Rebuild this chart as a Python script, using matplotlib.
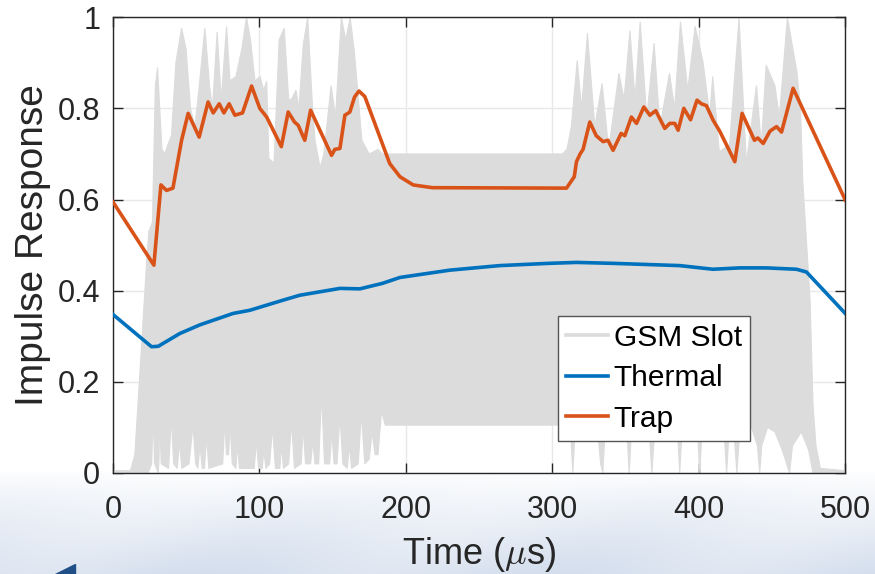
import numpy as np
import matplotlib
matplotlib.use("Agg")
import matplotlib.pyplot as plt
from matplotlib.lines import Line2D

plt.rcParams['font.family'] = ['Liberation Sans', 'DejaVu Sans']
plt.rcParams['mathtext.fontset'] = 'cm'

# GSM slot envelope (upper / lower edge of the fast oscillation)
gsm_t_hi = [0, 12, 15, 19, 23, 24.5, 27, 29, 30.5, 32, 33.5, 35.5, 37.5, 40, 43, 46.9, 50, 53, 56,
            59, 62.8, 66, 68, 71.2, 74, 77.6, 80, 84, 88, 91.2, 94, 97, 100.5, 103, 105, 106.5,
            110, 113.5, 117, 120, 122, 125, 127, 130, 133, 136, 138, 141.5, 144, 149, 152, 156,
            159, 162, 165, 170, 175, 181, 184, 307, 310, 313, 317, 320, 324, 329, 334, 338.5,
            345.5, 349, 353, 356.5, 360, 364.5, 369.5, 373.5, 380, 383.5, 387.5, 392.5, 397.5,
            403, 407.5, 409.5, 414, 421, 427.5, 432.5, 439.4, 442.7, 446, 452, 455, 460.5, 467,
            469.5, 471, 476, 478, 480, 483, 500]
gsm_hi = [0.005, 0.005, 0.04, 0.25, 0.46, 0.53, 0.55, 0.85, 0.89, 0.80, 0.71, 0.70, 0.72, 0.74,
          0.90, 0.976, 0.93, 0.80, 0.76, 0.85, 0.976, 0.85, 0.80, 0.968, 0.82, 0.98, 0.86, 0.87,
          0.93, 1.0, 0.95, 0.86, 0.87, 0.84, 0.86, 0.69, 0.68, 0.95, 0.976, 0.82, 0.82, 0.84,
          0.80, 0.94, 1.0, 0.82, 0.73, 0.67, 0.70, 0.85, 0.78, 1.0, 0.95, 1.0, 0.92, 0.73, 0.70,
          0.71, 0.70, 0.70, 0.71, 0.76, 0.905, 0.80, 0.965, 0.76, 0.855, 0.71, 0.877, 0.82,
          0.971, 0.82, 0.99, 0.78, 0.943, 0.76, 0.877, 0.80, 0.99, 0.84, 0.98, 0.90, 0.785, 0.87,
          0.705, 0.72, 0.998, 0.68, 0.85, 0.72, 0.895, 0.85, 0.78, 1.0, 0.88, 0.80, 0.64, 0.38,
          0.15, 0.06, 0.01, 0.005]

gsm_t_lo = [0, 24, 26.5, 27.5, 28.5, 31, 31.5, 32, 33, 38, 40, 41.5, 44, 45.5, 47, 52, 54.7,
            56.5, 58, 59.5, 61, 62.5, 64, 65.5, 75, 76.5, 77.5, 79, 80, 81.5, 84, 85, 86.5,
            96.5, 98, 99.5, 102, 103, 104.5, 107, 109, 111, 114, 115, 116.5, 120, 122, 124,
            128.5, 130, 131.5, 135, 136.5, 138, 140.5, 142.5, 144.5, 148, 149.5, 151, 153, 155,
            157, 160, 161.5, 163, 167.5, 169.7, 172, 175, 177, 179, 181, 183.4, 186,
            304, 309, 312.5, 314, 315.5, 320, 326, 331, 333, 334.5, 336, 345, 351, 352.5, 354,
            360, 366, 368, 370, 378, 385.5, 387, 388.5, 396, 399.3, 400.7, 402, 410, 417.5, 419,
            420.5, 424.5, 426, 427.5, 436, 440, 441.6, 443, 447, 452, 457, 460, 462, 464, 470,
            475, 478, 500]
gsm_lo = [0, 0, 0.02, 0.13, 0.02, 0.0, 0.03, 0.13, 0.02, 0.01, 0.12, 0.02, 0.01, 0.07, 0.01,
          0.02, 0.105, 0.02, 0.01, 0.06, 0.01, 0.01, 0.08, 0.01, 0.02, 0.12, 0.04, 0.04, 0.11,
          0.02, 0.01, 0.06, 0.01, 0.01, 0.07, 0.01, 0.01, 0.05, 0.01, 0.02, 0.10, 0.01, 0.01,
          0.06, 0.01, 0.02, 0.11, 0.01, 0.02, 0.10, 0.02, 0.02, 0.07, 0.02, 0.02, 0.175, 0.02,
          0.02, 0.09, 0.02, 0.02, 0.125, 0.02, 0.01, 0.06, 0.01, 0.02, 0.13, 0.02, 0.03, 0.09,
          0.04, 0.04, 0.135, 0.105,
          0.105, 0.10, 0.09, 0.0, 0.09, 0.11, 0.10, 0.09, 0.02, 0.0, 0.09, 0.10, 0.09, 0.0, 0.09,
          0.11, 0.10, 0.0, 0.10, 0.11, 0.09, 0.0, 0.09, 0.10, 0.08, 0.0, 0.08, 0.10, 0.08, 0.0,
          0.08, 0.07, 0.0, 0.07, 0.10, 0.06, 0.0, 0.06, 0.10, 0.09, 0.05, 0.02, 0.0, 0.06, 0.09,
          0.05, 0.0, 0.0]

# thermal model response
thermal_t = [0, 26.4, 31, 45.7, 59.4, 82, 93.5, 116, 127.6, 155, 168.6, 184, 196, 230, 264, 298,
             316.5, 341, 387, 409.6, 428, 446, 466.7, 473.5, 491.6, 500]
thermal = [0.348, 0.277, 0.278, 0.306, 0.325, 0.35, 0.357, 0.379, 0.39, 0.405, 0.404, 0.416,
           0.429, 0.445, 0.455, 0.46, 0.462, 0.46, 0.455, 0.447, 0.45, 0.45, 0.447, 0.441,
           0.379, 0.35]

# trap model response
trap_t = [0, 28, 32.8, 36.6, 41, 46.9, 51.4, 58.9, 65, 68.5, 72.6, 75.8, 79.4, 83.3, 88.5, 94.7,
          100.3, 105, 115, 119.7, 124, 126.5, 131, 135, 149.3, 151.5, 155, 158.4, 161.8, 165,
          168, 172, 189, 196, 205, 218, 309.7, 315, 316.5, 319, 321, 325.6, 330, 334.7, 338,
          341.5, 347, 349.5, 354, 357.5, 362.5, 366.6, 370.6, 376.8, 380.2, 383.6, 385.9, 389.8,
          394.4, 398.8, 401.8, 405.2, 409.8, 414.3, 424.6, 429.6, 438, 440.3, 444, 448.6, 453.1,
          456.5, 464.4, 500]
trap = [0.595, 0.456, 0.632, 0.62, 0.625, 0.73, 0.789, 0.737, 0.814, 0.79, 0.81, 0.79, 0.81,
        0.785, 0.79, 0.849, 0.80, 0.781, 0.716, 0.792, 0.77, 0.763, 0.73, 0.796, 0.697, 0.71,
        0.712, 0.785, 0.792, 0.825, 0.838, 0.826, 0.679, 0.65, 0.632, 0.626, 0.625, 0.65, 0.683,
        0.70, 0.71, 0.77, 0.74, 0.727, 0.73, 0.708, 0.745, 0.74, 0.781, 0.767, 0.803, 0.785,
        0.795, 0.756, 0.767, 0.767, 0.752, 0.80, 0.775, 0.818, 0.81, 0.806, 0.774, 0.75, 0.683,
        0.789, 0.73, 0.735, 0.723, 0.75, 0.76, 0.748, 0.844, 0.599]

fig = plt.figure(figsize=(8.75, 5.74), dpi=100)

# soft slide backdrop fading in under the plot
bg = fig.add_axes([0, 0, 1, 1], zorder=-10)
rows = np.arange(574)[:, None]
cols = np.arange(875)[None, :]
fade = np.clip((rows - 470) / 104.0, 0, 1) ** 0.8
streak = 0.5 + 0.5 * np.sin((cols + rows * 1.6) / 55.0)
amount = fade * (0.75 + 0.25 * streak)
tint = np.array([0.83, 0.87, 0.93])
grad = 1 - amount[..., None] * (1 - tint)
bg.imshow(grad, aspect='auto', extent=[0, 1, 0, 1], interpolation='bilinear')
bg.fill([0.063, 0.086, 0.086], [0.0, 0.0, 0.018], color='#1f4f86', transform=bg.transAxes)
bg.set_xlim(0, 1)
bg.set_ylim(0, 1)
bg.axis('off')

ax = fig.add_axes([0.129, 0.176, 0.837, 0.794])
ax.set_facecolor('white')

gray = '#dcdcdc'
blue = '#0072BD'
orange = '#D95319'

ax.fill(np.concatenate([gsm_t_hi, gsm_t_lo[::-1]]),
        np.concatenate([gsm_hi, gsm_lo[::-1]]),
        facecolor=gray, edgecolor=gray, lw=0.8, zorder=2)
ax.plot(thermal_t, thermal, color=blue, lw=2.6, zorder=3)
ax.plot(trap_t, trap, color=orange, lw=2.6, zorder=4)

ax.set_xlim(0, 500)
ax.set_ylim(0, 1)
ax.set_xticks([0, 100, 200, 300, 400, 500])
ax.set_yticks([0, 0.2, 0.4, 0.6, 0.8, 1])
ax.set_yticklabels(['0', '0.2', '0.4', '0.6', '0.8', '1'])
ax.grid(True, color='#e8e8e8', lw=1)
ax.set_axisbelow(True)
ax.tick_params(direction='in', length=7, width=1, top=True, right=True,
               labelsize=22, colors='#262626')
ax.tick_params(axis='x', pad=16)
ax.tick_params(axis='y', pad=9)
for s in ax.spines.values():
    s.set_color('#262626')
    s.set_linewidth(1)

ax.set_xlabel(r'Time ($\mu$s)', fontsize=26, color='#262626', labelpad=7)
ax.set_ylabel('Impulse Response', fontsize=28, color='#262626', labelpad=5)

handles = [Line2D([], [], color=gray, lw=2.6),
           Line2D([], [], color=blue, lw=2.6),
           Line2D([], [], color=orange, lw=2.6)]
leg = ax.legend(handles, ['GSM Slot', 'Thermal', 'Trap'], loc='lower left',
                bbox_to_anchor=(0.608, 0.071), borderaxespad=0, fontsize=21.5,
                fancybox=False, framealpha=1, edgecolor='#555555',
                handlelength=1.4, handletextpad=0.2, labelspacing=0.42,
                borderpad=0.26)
leg.get_frame().set_linewidth(1)
leg.set_zorder(6)

fig.savefig('out.png', dpi=100)
